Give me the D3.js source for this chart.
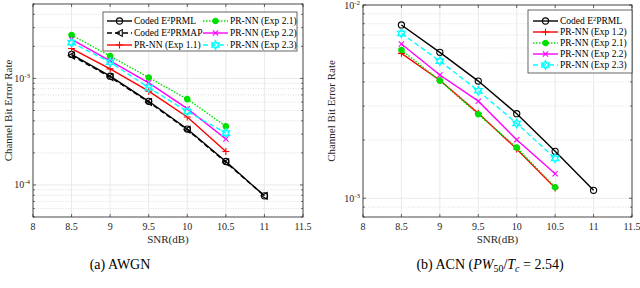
<!DOCTYPE html>
<html>
<head>
<meta charset="utf-8">
<script src="https://cdn.jsdelivr.net/npm/d3@7"></script>
<style>
  body { margin: 0; background: #fff; overflow: hidden; }
  svg { display: block; }
  svg text { font-family: "Liberation Serif", "Times New Roman", "DejaVu Serif", serif; }
</style>
</head>
<body>
<svg width="640" height="288" font-family="Liberation Serif, Times New Roman, serif"></svg>
<script>
// SNR values (dB) shared by both panels
var snr = [8.5, 9, 9.5, 10, 10.5, 11];
var xTicks = [8, 8.5, 9, 9.5, 10, 10.5, 11, 11.5];

// (a) AWGN
var awgnE2prml  = [1.68e-3, 1.05e-3, 6.1e-4, 3.35e-4, 1.66e-4, 7.9e-5];
var awgnE2prmap = [1.64e-3, 1.03e-3, 6.0e-4, 3.3e-4, 1.63e-4, 7.9e-5];
var awgnExp11   = [1.91e-3, 1.23e-3, 7.6e-4, 4.35e-4, 2.06e-4];
var awgnExp21   = [2.56e-3, 1.62e-3, 1.02e-3, 6.4e-4, 3.55e-4];
var awgnExp22   = [2.33e-3, 1.46e-3, 9.1e-4, 5.2e-4, 2.7e-4];
var awgnExp23   = [2.17e-3, 1.42e-3, 8.2e-4, 4.9e-4, 3.07e-4];

// (b) ACN
var acnE2prml = [7.88e-3, 5.69e-3, 4.04e-3, 2.74e-3, 1.75e-3, 1.1e-3];
var acnExp12  = [5.62e-3, 4.08e-3, 2.75e-3, 1.8e-3, 1.13e-3];
var acnExp21  = [5.85e-3, 4.06e-3, 2.72e-3, 1.83e-3, 1.14e-3];
var acnExp22  = [6.28e-3, 4.34e-3, 3.18e-3, 2.01e-3, 1.34e-3];
var acnExp23  = [7.13e-3, 5.13e-3, 3.6e-3, 2.44e-3, 1.61e-3];

var svg = d3.select("svg");
var FONT = "Liberation Serif, Times New Roman, serif";

function hexagram(r) {
  var pts = [];
  for (var i = 0; i < 12; i++) {
    var a = Math.PI / 2 + i * Math.PI / 6, rr = i % 2 ? r * 0.55 : r;
    pts.push([rr * Math.cos(a), -rr * Math.sin(a)]);
  }
  return "M" + pts.join("L") + "Z";
}

var markers = {
  circle:  { d: d3.symbol(d3.symbolCircle, 30)(), fill: "none" },
  tri:     { d: "M-3.2,0L2.8,-3.4L2.8,3.4Z", fill: "none" },
  plus:    { d: "M-3.5,0H3.5M0,-3.5V3.5", fill: "none" },
  dot:     { d: d3.symbol(d3.symbolCircle, 24)(), fill: "color" },
  cross:   { d: "M-2.6,-2.6L2.6,2.6M-2.6,2.6L2.6,-2.6", fill: "none" },
  hex:     { d: hexagram(4.2), fill: "none" }
};

function drawMarker(g, type, color, x, y) {
  var m = markers[type];
  g.append("path")
    .attr("d", m.d)
    .attr("transform", "translate(" + x + "," + y + ")")
    .attr("fill", m.fill === "color" ? color : "none")
    .attr("stroke", color)
    .attr("stroke-width", type === "hex" ? 1.4 : 1.1);
}

function supLabel(sel, exp) {
  sel.append("tspan").text("10");
  sel.append("tspan").attr("dy", -4).attr("font-size", 7).text(exp);
}

function drawPanel(cfg) {
  var x = d3.scaleLinear().domain([8, 11.5]).range(cfg.xr);
  var y = d3.scaleLog().domain(cfg.yd).range([217, cfg.top]);
  var g = svg.append("g").attr("font-family", FONT);
  var x0 = cfg.xr[0], x1 = cfg.xr[1], y0 = 217, y1 = cfg.top;

  // minor/major y values
  var lo = Math.floor(Math.log10(cfg.yd[0])), hi = Math.ceil(Math.log10(cfg.yd[1]));
  var minor = [], major = [];
  for (var e = lo; e <= hi; e++) {
    for (var k = 1; k < 10; k++) {
      var v = k * Math.pow(10, e);
      if (v < cfg.yd[0] * 0.999 || v > cfg.yd[1] * 1.001) continue;
      (k === 1 ? major : minor).push(v);
    }
  }

  // grid
  g.selectAll(".mg").data(minor).enter().append("line")
    .attr("x1", x0).attr("x2", x1)
    .attr("y1", function(d) { return y(d); }).attr("y2", function(d) { return y(d); })
    .attr("stroke", "#c8c8c8").attr("stroke-width", 0.6).attr("stroke-dasharray", "1,1.5");
  g.selectAll(".gy").data(major).enter().append("line")
    .attr("x1", x0).attr("x2", x1)
    .attr("y1", function(d) { return y(d); }).attr("y2", function(d) { return y(d); })
    .attr("stroke", "#e3e3e3").attr("stroke-width", 0.8);
  g.selectAll(".gx").data(xTicks).enter().append("line")
    .attr("x1", function(d) { return x(d); }).attr("x2", function(d) { return x(d); })
    .attr("y1", y0).attr("y2", y1)
    .attr("stroke", "#e3e3e3").attr("stroke-width", 0.8);

  // box + ticks
  g.append("rect").attr("x", x0).attr("y", y1).attr("width", x1 - x0).attr("height", y0 - y1)
    .attr("fill", "none").attr("stroke", "#262626").attr("stroke-width", 0.8);
  xTicks.forEach(function(t) {
    g.append("path").attr("d", "M" + x(t) + "," + y0 + "v-3M" + x(t) + "," + y1 + "v3")
      .attr("stroke", "#262626").attr("stroke-width", 0.7);
  });
  major.concat(minor).forEach(function(v) {
    var len = major.indexOf(v) >= 0 ? 3 : 1.8;
    g.append("path").attr("d", "M" + x0 + "," + y(v) + "h" + len + "M" + x1 + "," + y(v) + "h-" + len)
      .attr("stroke", "#262626").attr("stroke-width", 0.7);
  });

  // tick labels
  g.selectAll(".xl").data(xTicks).enter().append("text")
    .attr("x", function(d) { return x(d); }).attr("y", 230)
    .attr("text-anchor", "middle").attr("font-size", 10).attr("fill", "#262626")
    .text(function(d) { return d; });
  major.forEach(function(v) {
    var t = g.append("text").attr("x", x0 - 3).attr("y", y(v) + 3.5)
      .attr("text-anchor", "end").attr("font-size", 10).attr("fill", "#262626");
    supLabel(t, String(Math.round(Math.log10(v))));
  });

  g.append("text").attr("x", (x0 + x1) / 2).attr("y", 243)
    .attr("text-anchor", "middle").attr("font-size", 11).attr("fill", "#262626").text("SNR(dB)");
  g.append("text").attr("transform", "translate(" + cfg.ylx + "," + (y0 + y1) / 2 + ") rotate(-90)")
    .attr("text-anchor", "middle").attr("font-size", 11).attr("fill", "#262626")
    .text("Channel Bit Error Rate");

  // series
  var line = d3.line().x(function(d, i) { return x(snr[i]); }).y(function(d) { return y(d); });
  cfg.series.forEach(function(s) {
    g.append("path").datum(s.values).attr("d", line)
      .attr("fill", "none").attr("stroke", s.color).attr("stroke-width", 1.4)
      .attr("stroke-dasharray", s.dash || null);
    s.values.forEach(function(v, i) { drawMarker(g, s.marker, s.color, x(snr[i]), y(v)); });
  });

  // legend
  var L = cfg.legend;
  g.append("rect").attr("x", L.x).attr("y", L.y).attr("width", L.w).attr("height", L.h)
    .attr("fill", "#fff").attr("stroke", "#262626").attr("stroke-width", 0.7);
  cfg.series.forEach(function(s, i) {
    var p = L.pos[i];
    g.append("line").attr("x1", p[0]).attr("x2", p[0] + 25).attr("y1", p[1]).attr("y2", p[1])
      .attr("stroke", s.color).attr("stroke-width", 1.4).attr("stroke-dasharray", s.dash || null);
    drawMarker(g, s.marker, s.color, p[0] + 12.5, p[1]);
    var t = g.append("text").attr("x", p[0] + 27).attr("y", p[1] + 3).attr("font-size", 9.5).attr("fill", "#000");
    if (s.sup) {
      t.append("tspan").text("Coded E");
      t.append("tspan").attr("dy", -3.5).attr("font-size", 6.5).text("2");
      t.append("tspan").attr("dy", 3.5).text(s.sup);
    } else {
      t.text(s.name);
    }
  });

  svg.append("text").attr("x", cfg.capx).attr("y", 269).attr("text-anchor", "middle")
    .attr("font-family", FONT).attr("font-size", 14).attr("fill", "#000").call(cfg.caption);
}

drawPanel({
  xr: [33, 303], yd: [5e-5, 5e-3], top: 4, ylx: 12,
  series: [
    { sup: "PRML", values: awgnE2prml, color: "#000", marker: "circle" },
    { sup: "PRMAP", values: awgnE2prmap, color: "#000", marker: "tri", dash: "5,3" },
    { name: "PR-NN (Exp 1.1)", values: awgnExp11, color: "#ff0000", marker: "plus" },
    { name: "PR-NN (Exp 2.1)", values: awgnExp21, color: "#00e000", marker: "dot", dash: "1.5,1.5" },
    { name: "PR-NN (Exp 2.2)", values: awgnExp22, color: "#ff00ff", marker: "cross" },
    { name: "PR-NN (Exp 2.3)", values: awgnExp23, color: "#00ffff", marker: "hex", dash: "5,3" }
  ],
  legend: { x: 103, y: 12, w: 194, h: 39,
    pos: [[107, 21], [107, 33], [107, 45], [203, 21], [203, 33], [203, 45]] },
  capx: 120,
  caption: function(t) { t.text("(a) AWGN"); }
});

drawPanel({
  xr: [363, 632], yd: [8e-4, 1e-2], top: 5, ylx: 335,
  series: [
    { sup: "PRML", values: acnE2prml, color: "#000", marker: "circle" },
    { name: "PR-NN (Exp 1.2)", values: acnExp12, color: "#ff0000", marker: "plus" },
    { name: "PR-NN (Exp 2.1)", values: acnExp21, color: "#00e000", marker: "dot", dash: "1.5,1.5" },
    { name: "PR-NN (Exp 2.2)", values: acnExp22, color: "#ff00ff", marker: "cross" },
    { name: "PR-NN (Exp 2.3)", values: acnExp23, color: "#00ffff", marker: "hex", dash: "5,3" }
  ],
  legend: { x: 528, y: 10, w: 104, h: 63,
    pos: [[533, 21], [533, 32], [533, 43], [533, 54], [533, 65]] },
  capx: 490,
  caption: function(t) {
    t.append("tspan").text("(b) ACN (");
    t.append("tspan").attr("font-style", "italic").text("PW");
    t.append("tspan").attr("font-size", 10).attr("dy", 3).text("50");
    t.append("tspan").attr("dy", -3).text("/");
    t.append("tspan").attr("font-style", "italic").text("T");
    t.append("tspan").attr("font-style", "italic").attr("font-size", 10).attr("dy", 3).text("c");
    t.append("tspan").attr("dy", -3).text(" = 2.54)");
  }
});
</script>
</body>
</html>
